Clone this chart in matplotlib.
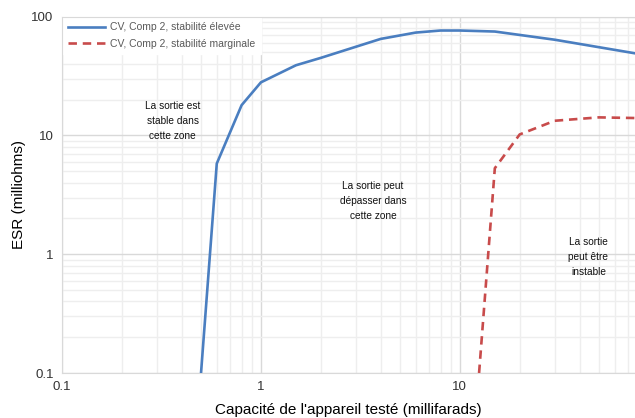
import matplotlib.pyplot as plt
import matplotlib.ticker as mticker
import numpy as np

# data
cap_high = [0.5, 0.6, 0.8, 1.0, 1.5, 2.0, 4.0, 6.0, 8.0, 10.0, 15.0, 30.0, 100.0]
esr_high = [0.1, 5.8, 18.0, 28.0, 39.0, 45.0, 65.0, 73.5, 76.5, 76.5, 75.0, 64.0, 45.5]

cap_marg = [12.5, 15.0, 20.0, 30.0, 50.0, 80.0, 100.0]
esr_marg = [0.1, 5.3, 10.2, 13.3, 14.2, 14.0, 13.8]

label_high = "CV, Comp 2, stabilité élevée"
label_marg = "CV, Comp 2, stabilité marginale"

zone_texts = ["La sortie est\nstable dans\ncette zone",
              "La sortie peut\ndépasser dans\ncette zone",
              "La sortie\npeut être\ninstable"]
zone_x = [0.36, 3.66, 44.3]
zone_y = [13.3, 2.82, 0.95]

plt.rcParams['font.family'] = ['Liberation Sans', 'DejaVu Sans']

fig = plt.figure(figsize=(6.35, 4.18), dpi=100)
ax = fig.add_axes([62 / 635, 45 / 418, 1 - 62 / 635, (373 - 16.7) / 418])

ax.plot(cap_high, esr_high, color='#4a7ec0', lw=1.9, label=label_high,
        solid_joinstyle='round', zorder=3)
ax.plot(cap_marg, esr_marg, color='#c84b4b', lw=1.9, ls=(0, (3.2, 2.2)),
        label=label_marg, zorder=3)

ax.set_xscale('log')
ax.set_yscale('log')
ax.set_xlim(0.1, 76)
ax.set_ylim(0.1, 100)

ax.xaxis.set_major_locator(mticker.LogLocator(base=10))
ax.yaxis.set_major_locator(mticker.LogLocator(base=10))
ax.xaxis.set_minor_locator(mticker.LogLocator(base=10, subs=np.arange(2, 10)))
ax.yaxis.set_minor_locator(mticker.LogLocator(base=10, subs=np.arange(2, 10)))
fmt = mticker.FuncFormatter(lambda v, p: f"{v:g}")
ax.xaxis.set_major_formatter(fmt)
ax.yaxis.set_major_formatter(fmt)
ax.xaxis.set_minor_formatter(mticker.NullFormatter())
ax.yaxis.set_minor_formatter(mticker.NullFormatter())

ax.grid(True, which='major', color='#d9d9d9', lw=1.0)
ax.grid(True, which='minor', color='#eeeeee', lw=1.0)
ax.set_axisbelow(True)

ax.tick_params(which='both', length=0, labelsize=9.5, colors='#333333')
ax.tick_params(axis='x', pad=6)
ax.tick_params(axis='y', pad=6)

# top border line at 100 stays visible over the legend
ax.spines['right'].set_visible(False)
for s in ['left', 'bottom', 'top']:
    ax.spines[s].set_color('#d9d9d9')

ax.set_xlabel("Capacité de l'appareil testé (millifarads)", fontsize=11, labelpad=7)
ax.set_ylabel("ESR (milliohms)", fontsize=11, labelpad=4)

for t, x, y in zip(zone_texts, zone_x, zone_y):
    ax.text(x, y, t, ha='center', va='center', fontsize=7.3,
            linespacing=1.65, color='#111111')

leg = ax.legend(loc='upper left', bbox_to_anchor=(0.0, 1.0), frameon=True,
                fancybox=False, fontsize=7.5, handlelength=3.6,
                handletextpad=0.5, borderpad=0.55, labelspacing=0.6,
                borderaxespad=0.0)
leg.get_frame().set_facecolor('white')
leg.get_frame().set_edgecolor('white')
leg.get_frame().set_alpha(1)
leg.set_zorder(2.4)
for t in leg.get_texts():
    t.set_color('#595959')

fig.savefig('out.png', dpi=100)
